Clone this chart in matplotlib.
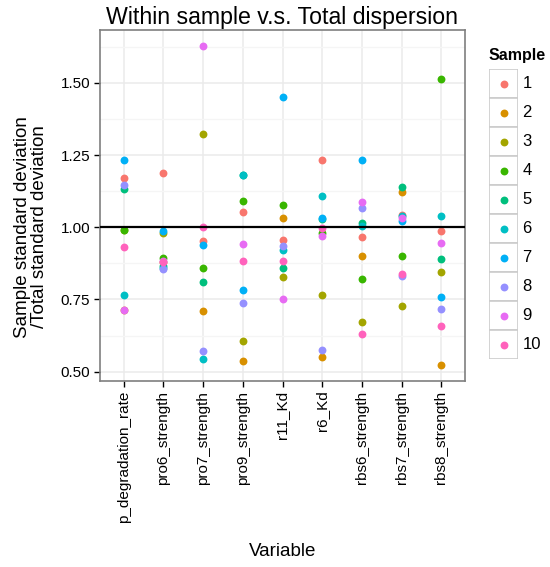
import numpy as np
import matplotlib
matplotlib.use("Agg")
import matplotlib.pyplot as plt
from matplotlib.patches import Rectangle

plt.rcParams["font.family"] = ["Liberation Sans", "DejaVu Sans"]

variables = ["p_degradation_rate", "pro6_strength", "pro7_strength", "pro9_strength",
             "r11_Kd", "r6_Kd", "rbs6_strength", "rbs7_strength", "rbs8_strength"]
samples = [str(i) for i in range(1, 11)]

# one list per sample, values in the order of `variables`
s1 = [1.170, 1.189, 0.954, 1.053, 0.956, 1.232, 0.967, 1.044, 0.988]
s2 = [0.715, 0.880, 0.709, 0.537, 1.032, 0.550, 0.901, 1.122, 0.523]
s3 = [0.990, 0.979, 1.322, 0.605, 0.829, 0.764, 0.671, 0.726, 0.846]
s4 = [0.991, 0.894, 0.860, 1.091, 1.077, 0.981, 0.822, 0.901, 1.514]
s5 = [1.131, 0.865, 0.809, 1.180, 0.860, 1.030, 1.015, 1.139, 0.891]
s6 = [0.764, 0.860, 0.545, 1.180, 0.921, 1.108, 1.006, 1.040, 1.039]
s7 = [1.232, 0.988, 0.940, 0.784, 1.452, 1.031, 1.232, 1.022, 0.757]
s8 = [1.147, 0.855, 0.571, 0.739, 0.936, 0.574, 1.067, 0.832, 0.716]
s9 = [0.712, 0.885, 1.628, 0.943, 0.753, 0.971, 1.087, 1.032, 0.946]
s10 = [0.932, 0.880, 1.002, 0.885, 0.885, 0.996, 0.629, 0.839, 0.657]
values = [s1, s2, s3, s4, s5, s6, s7, s8, s9, s10]

colors = ["#F8766D", "#D89000", "#A3A500", "#39B600", "#00BF7D",
          "#00BFC4", "#00B0F6", "#9590FF", "#E76BF3", "#FF62BC"]

W, H = 550, 567
fig = plt.figure(figsize=(W / 100, H / 100), dpi=100)
ax = fig.add_axes([100 / W, 1 - 381 / H, 365 / W, 351 / H])

xpos = np.arange(1, len(variables) + 1)
for vals, c in zip(values, colors):
    ax.scatter(xpos, vals, s=32, color=c, linewidths=0, zorder=3)
ax.axhline(1.0, color="black", lw=1.6, zorder=4)

allv = np.concatenate(values)
lo, hi = allv.min(), allv.max()
pad = (hi - lo) * 0.05
ax.set_ylim(lo - pad, hi + pad)
ax.set_xlim(0.4, len(variables) + 0.6)

yt = [0.50, 0.75, 1.00, 1.25, 1.50]
ax.set_yticks(yt)
ax.set_yticklabels([f"{v:.2f}" for v in yt])
ax.set_yticks(np.arange(0.625, 1.7, 0.25), minor=True)
ax.set_xticks(xpos)
ax.set_xticklabels(variables, rotation=90, fontsize=11)
ax.tick_params(axis="both", which="major", length=4, width=1, color="black",
               labelsize=11, labelcolor="black", pad=3)
ax.tick_params(axis="y", which="minor", length=0)
ax.grid(True, which="major", color="#EBEBEB", lw=1.1, zorder=0)
ax.grid(True, which="minor", axis="y", color="#F5F5F5", lw=1.0, zorder=0)
ax.set_axisbelow(True)
for sp in ax.spines.values():
    sp.set_color("#7F7F7F")
    sp.set_linewidth(1.2)

ax.set_title("Within sample v.s. Total dispersion", fontsize=16.7, pad=4)
ax.set_xlabel("Variable", fontsize=13.5, labelpad=14)
fig.text(31 / W, 1 - 227 / H, "Sample standard deviation\n/Total standard deviation",
         rotation=90, ha="center", va="center", fontsize=13.5, linespacing=1.05)

# legend
lax = fig.add_axes([489 / W, 1 - 359 / H, 29 / W, 290 / H])
n = len(samples)
lax.set_xlim(0, 1)
lax.set_ylim(n, 0)
lax.axis("off")
for i, (lab, c) in enumerate(zip(samples, colors)):
    lax.add_patch(Rectangle((0, i), 1, 1, facecolor="white", edgecolor="#CCCCCC", lw=1.2))
    lax.scatter([0.5], [i + 0.5], s=32, color=c, linewidths=0, clip_on=False)
    lax.text(1.15, i + 0.5, lab, ha="left", va="center", fontsize=12)
lax.text(0, -0.2, "Sample", ha="left", va="bottom", fontsize=11.5, fontweight="bold")

fig.savefig("out.png", dpi=100)
